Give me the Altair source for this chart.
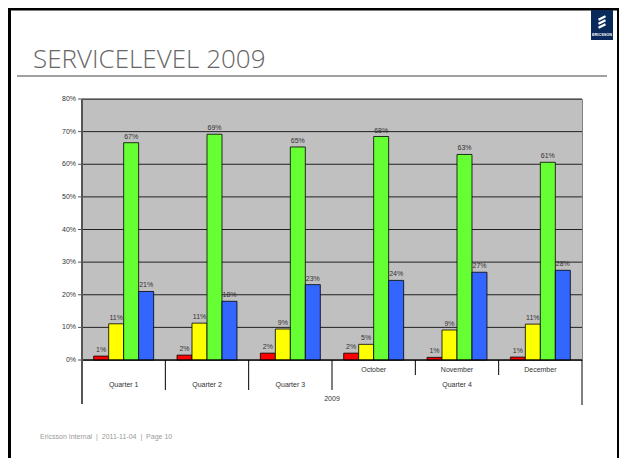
import altair as alt
import pandas as pd

cats = ["Quarter 1", "Quarter 2", "Quarter 3", "October", "November", "December"]
series = ["A", "B", "C", "D"]
colors = ["#FF0000", "#FFFF00", "#66FF33", "#3366FF"]
red = [1.2, 1.5, 2.1, 2.1, 0.8, 0.9]
yellow = [11.1, 11.3, 9.5, 4.8, 9.2, 11.0]
green = [66.6, 69.2, 65.3, 68.5, 63.0, 60.6]
blue = [21.0, 18.0, 23.1, 24.4, 26.9, 27.5]
red_lbl = ["1%", "2%", "2%", "2%", "1%", "1%"]
yellow_lbl = ["11%", "11%", "9%", "5%", "9%", "11%"]
green_lbl = ["67%", "69%", "65%", "68%", "63%", "61%"]
blue_lbl = ["21%", "18%", "23%", "24%", "27%", "28%"]
quarters = ["Quarter 1", "Quarter 2", "Quarter 3"]
months = ["October", "November", "December"]
y_ticks = [0, 10, 20, 30, 40, 50, 60, 70, 80]
y_tick_labels = ["0%", "10%", "20%", "30%", "40%", "50%", "60%", "70%", "80%"]

rows = []
for s, vals, lbls in zip(series, [red, yellow, green, blue], [red_lbl, yellow_lbl, green_lbl, blue_lbl]):
    for c, v, l in zip(cats, vals, lbls):
        rows.append({"cat": c, "series": s, "value": v, "label": l})
df = pd.DataFrame(rows)
tick_df = pd.DataFrame({"value": y_ticks, "label": y_tick_labels})

W, H = 500, 261

xenc = alt.X("cat:N", sort=cats, scale=alt.Scale(paddingInner=0, paddingOuter=0), axis=None)
xoff = alt.XOffset("series:N", sort=series, scale=alt.Scale(paddingInner=0, paddingOuter=0.78))
yscale = alt.Scale(domain=[0, 80], nice=False)
yenc = alt.Y("value:Q", scale=yscale, axis=None)

grid = alt.Chart(tick_df).mark_rule(color="#222222", strokeWidth=1).encode(
    x=alt.value(0), x2=alt.value(W), y=yenc)
ticks = alt.Chart(tick_df).mark_rule(color="#555555", strokeWidth=1).encode(
    x=alt.value(-4), x2=alt.value(0), y=yenc)
tick_text = alt.Chart(tick_df).mark_text(align="right", baseline="middle", fontSize=7,
                                         color="#333333", font="Liberation Sans").encode(
    x=alt.value(-6), y=yenc, text="label:N")

bars = alt.Chart(df).mark_bar(stroke="#000000", strokeWidth=0.8).encode(
    x=xenc,
    xOffset=xoff,
    y=yenc,
    color=alt.Color("series:N", sort=series, scale=alt.Scale(domain=series, range=colors), legend=None),
)

labels = alt.Chart(df).mark_text(baseline="bottom", dy=-3, fontSize=7, color="#333333",
                                 font="Liberation Sans").encode(
    x=xenc, xOffset=xoff, y=yenc, text="label:N")

one = pd.DataFrame({"v": [0]})
base_rule = alt.Chart(one).mark_rule(color="#000000", strokeWidth=1).encode(
    x=alt.value(0), x2=alt.value(W), y=alt.value(H))

qdf = pd.DataFrame({"cat": quarters})
mdf = pd.DataFrame({"cat": months})

q_text = alt.Chart(qdf).mark_text(fontSize=7, color="#333333", font="Liberation Sans").encode(
    x=alt.X("cat:N", sort=cats), y=alt.value(286), text="cat:N")
m_text = alt.Chart(mdf).mark_text(fontSize=7, color="#333333", font="Liberation Sans").encode(
    x=alt.X("cat:N", sort=cats), y=alt.value(271), text="cat:N")
q4_text = alt.Chart(pd.DataFrame({"cat": ["November"], "t": ["Quarter 4"]})).mark_text(
    fontSize=7, color="#333333", font="Liberation Sans").encode(
    x=alt.X("cat:N", sort=cats), y=alt.value(286), text="t:N")
yr_text = alt.Chart(pd.DataFrame({"cat": ["October"], "t": ["2009"]})).mark_text(
    fontSize=7, color="#333333", font="Liberation Sans").encode(
    x=alt.X("cat:N", sort=cats, bandPosition=0), y=alt.value(300), text="t:N")

def sep(cat_list, y1, y2, band=0, color="#000000", width=1):
    return alt.Chart(pd.DataFrame({"cat": cat_list})).mark_rule(color=color, strokeWidth=width).encode(
        x=alt.X("cat:N", sort=cats, bandPosition=band), y=alt.value(y1), y2=alt.value(y2))

axis_line = sep(["Quarter 1"], 0, 305, 0, "#555555", 2)
sep_long_r = sep(["December"], H, 306, 1)
sep_mid = sep(["Quarter 2", "Quarter 3", "October"], H, 291)
sep_short = sep(["November", "December"], H, 276)

# slide frame
left_border = alt.Chart(one).mark_rule(color="#000000", strokeWidth=3).encode(
    x=alt.value(-72.5), y=alt.value(-91), y2=alt.value(359))
top_border = alt.Chart(one).mark_rule(color="#000000", strokeWidth=3).encode(
    x=alt.value(-74), x2=alt.value(538), y=alt.value(-90))
right_border = alt.Chart(one).mark_rule(color="#000000", strokeWidth=3).encode(
    x=alt.value(536.5), y=alt.value(-91), y2=alt.value(359))
title_line = alt.Chart(one).mark_rule(color="#808080", strokeWidth=1.5).encode(
    x=alt.value(-65), x2=alt.value(525), y=alt.value(-23))
title = alt.Chart(pd.DataFrame({"t": ["SERVICELEVEL 2009"]})).mark_text(
    align="left", baseline="alphabetic", fontSize=26, font="Open Sans", fontWeight=300,
    color="#666666").encode(x=alt.value(-49), y=alt.value(-31), text="t:N")
nb = "\u00a0"
footer = alt.Chart(pd.DataFrame({"t": [f"Ericsson Internal{nb}{nb}|{nb}{nb}2011-11-04{nb}{nb}|{nb}{nb}Page 10"]})).mark_text(
    align="left", baseline="middle", fontSize=7, font="Liberation Sans",
    color="#999999").encode(x=alt.value(-42), y=alt.value(338), text="t:N")

# logo
logo_box = alt.Chart(one).mark_rect(color="#0B2A5C").encode(
    x=alt.value(509), x2=alt.value(531), y=alt.value(-89), y2=alt.value(-59))
stripes = []
for dy in [-81, -77, -73]:
    stripes.append(alt.Chart(one).mark_rule(color="#FFFFFF", strokeWidth=2.2).encode(
        x=alt.value(516.5), x2=alt.value(523.5), y=alt.value(dy + 1.8), y2=alt.value(dy - 1.8)))
logo_text = alt.Chart(pd.DataFrame({"t": ["ERICSSON"]})).mark_text(
    fontSize=3.8, fontWeight="bold", font="Liberation Sans", color="#FFFFFF").encode(
    x=alt.value(520), y=alt.value(-64), text="t:N")

chart = alt.layer(
    grid, bars, labels, base_rule, ticks, tick_text, q_text, m_text, q4_text, yr_text,
    axis_line, sep_long_r, sep_mid, sep_short,
    left_border, top_border, right_border, title_line, title, footer,
    logo_box, *stripes, logo_text
).properties(
    width=W, height=H,
    padding={"left": 74, "top": 91, "right": 37, "bottom": 98},
    autosize="none",
).configure_view(fill="#C0C0C0", stroke="#808080", strokeWidth=1)

chart.save("out.html", embed_options={"renderer": "svg", "actions": False})
